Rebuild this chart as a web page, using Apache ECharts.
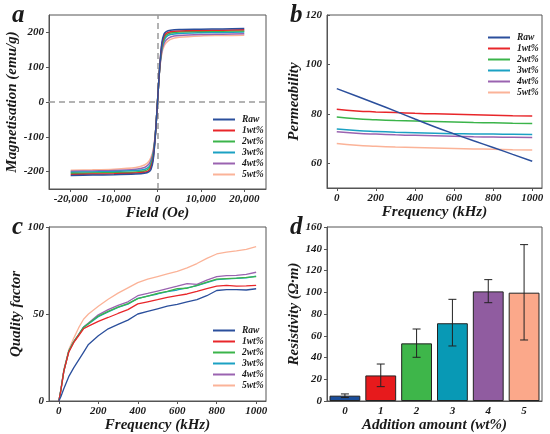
<!DOCTYPE html>
<html>
<head>
<meta charset="utf-8">
<title></title>
<script src="https://cdn.jsdelivr.net/npm/echarts@6/dist/echarts.min.js"></script>
<style>
	html, body { margin: 0; padding: 0; background: #fff; }
	#main { width: 550px; height: 434px; }
</style>
</head>
<body>
<div id="main"></div>
<script type="text/javascript">
	var names = ['Raw', '1wt%', '2wt%', '3wt%', '4wt%', '5wt%'];
	var lineColors = ['#2b4f9c', '#e8262a', '#3bb44a', '#1ba1c3', '#9a63b0', '#fbb398'];

	// a: magnetisation loops
	var fieldOe = [-20000, -15000, -10000, -5000, -3000, -2000, -1500, -1000, -500, 0, 500, 1000, 1500, 2000, 3000, 5000, 10000, 15000, 20000];
	var magRaw = [-211, -210, -209, -207, -205, -201, -194, -168, -98, 0, 100, 170, 195, 202, 206, 208, 209, 210, 211];
	var mag1 = [-208, -207, -206, -204, -202, -197, -187, -163, -96, 0, 98, 165, 188, 197, 202, 204, 205.5, 206.5, 207.5];
	var mag2 = [-205, -204, -203, -201, -198, -192, -181, -156, -95, 0, 97, 158, 182, 192, 198, 201, 202.5, 203.5, 204];
	var mag3 = [-202, -201, -200, -197, -194, -187, -175, -150, -94, 0, 96, 152, 176, 187, 194, 197, 199, 200, 201];
	var mag4 = [-199, -198, -197, -193, -188, -179, -167, -144, -93, 0, 95, 146, 168, 178, 187, 191, 194, 195, 196];
	var mag5 = [-196, -195, -193, -188, -181, -171, -159, -138, -92, 0, 94, 140, 160, 170, 180, 186, 190, 191, 192];

	// b: permeability
	var freqB = [0, 100, 200, 300, 400, 500, 600, 700, 800, 900, 1000];
	var permRaw = [90.2, 87.2, 84.2, 81.1, 77.9, 74.8, 71.9, 69.1, 66.4, 63.6, 60.8];
	var perm1 = [81.9, 81.2, 80.8, 80.5, 80.2, 80.0, 79.8, 79.6, 79.4, 79.2, 79.1];
	var perm2 = [78.7, 78.0, 77.6, 77.3, 77.1, 76.9, 76.7, 76.5, 76.4, 76.2, 76.1];
	var perm3 = [73.9, 73.3, 72.9, 72.6, 72.4, 72.2, 72.0, 71.9, 71.8, 71.7, 71.6];
	var perm4 = [72.8, 72.2, 71.8, 71.5, 71.3, 71.1, 70.9, 70.7, 70.6, 70.5, 70.4];
	var perm5 = [68.0, 67.3, 66.9, 66.6, 66.4, 66.2, 66.0, 65.8, 65.7, 65.5, 65.4];

	// c: quality factor
	var freqC = [0, 10, 25, 50, 75, 100, 125, 150, 200, 250, 300, 350, 400, 450, 500, 550, 600, 650, 700, 750, 800, 850, 900, 950, 1000];
	var qRaw = [0, 2.5, 7, 14, 19, 23.5, 28, 32.5, 37.5, 41.5, 44, 46.5, 50, 51.5, 53, 54.5, 55.5, 57, 58.3, 60.5, 63.5, 64, 64, 63.8, 64.5];
	var q1 = [0, 6, 17, 28, 33.5, 37.5, 41.5, 43, 45.8, 48, 50.3, 52.5, 55.8, 57, 58.2, 59.5, 60.6, 61.5, 63, 64.6, 66, 66.5, 66, 66.2, 66.5];
	var q2 = [0, 6, 17, 28.5, 34, 38, 42.3, 44.5, 48.8, 51.5, 54, 56, 58.8, 60.3, 61.8, 63, 64.6, 64.8, 66.5, 68.3, 70, 70.3, 70.6, 71, 71.5];
	var q3 = [0, 6.5, 17.5, 28.5, 34, 38, 42.3, 44.3, 48.5, 51.2, 53.8, 55.7, 59, 60.3, 61.5, 62.8, 63.8, 65, 66.3, 68, 69.8, 70.2, 70.5, 70.8, 71.8];
	var q4 = [0, 6, 17, 28.5, 34, 38.2, 42.5, 44.8, 49.5, 52.5, 55, 57, 60.5, 61.8, 63.2, 64.6, 66, 67.5, 67, 69.5, 71.5, 72, 72.2, 72.8, 74];
	var q5 = [0, 6.5, 18, 29.5, 36, 42, 47, 50, 54.5, 58.5, 62, 65, 68, 70, 71.5, 73, 74.5, 76.5, 79, 82, 84.5, 85.5, 86.3, 87.2, 88.7];

	// d: resistivity
	var amounts = ['0', '1', '2', '3', '4', '5'];
	var resist = [4.9, 23.5, 53, 71.5, 100.8, 99.6];
	var errLow = [3.2, 13.2, 40.2, 50.6, 90.4, 56.1];
	var errHigh = [6.5, 34, 66.2, 93.5, 111.6, 143.8];
	var barColors = ['#1b4e9b', '#e71a1c', '#3eb64a', '#0899b5', '#905ca0', '#fba88a'];

	var serif = 'Liberation Serif';
	function font(size) {
		return { fontFamily: serif, fontWeight: 'bold', fontStyle: 'italic', fontSize: size, color: '#1a1a1a' };
	}
	var frame = '#555';

	function valueAxis(grid, min, max, ticks, name, gap, inside, plain) {
		var label = Object.assign({ customValues: ticks, margin: 5 }, font(11));
		if (plain) label.formatter = function (v) { return String(v); };
		return {
			type: 'value', gridIndex: grid, min: min, max: max,
			name: name, nameLocation: 'middle', nameGap: gap, nameTextStyle: font(15),
			axisLine: { show: true, onZero: false, lineStyle: { color: frame, width: 1 } },
			axisTick: { show: true, inside: !!inside, length: 3, customValues: ticks, lineStyle: { color: frame } },
			axisLabel: label,
			splitLine: { show: false }
		};
	}

	function pairs(xs, ys) {
		return xs.map(function (x, i) { return [x, ys[i]]; });
	}

	function lineSeries(grid, xs, list, smooth, width) {
		return list.map(function (ys, i) {
			return {
				type: 'line', name: names[i], xAxisIndex: grid, yAxisIndex: grid,
				data: pairs(xs, ys), showSymbol: false, symbol: 'none', smooth: smooth,
				lineStyle: { color: lineColors[i], width: width }, itemStyle: { color: lineColors[i] },
				z: 10 - i
			};
		});
	}

	var seriesA = lineSeries(0, fieldOe, [magRaw, mag1, mag2, mag3, mag4, mag5], 0.3, 1.5);
	seriesA[0].markLine = {
		silent: true, symbol: 'none', label: { show: false },
		lineStyle: { type: [6, 4], color: '#9a9a9a', width: 1.5 },
		data: [{ xAxis: 0 }, { yAxis: 0 }]
	};
	var seriesB = lineSeries(1, freqB, [permRaw, perm1, perm2, perm3, perm4, perm5], true, 1.5);
	var seriesC = lineSeries(2, freqC, [qRaw, q1, q2, q3, q4, q5], false, 1.3);

	var barSeries = {
		type: 'bar', xAxisIndex: 3, yAxisIndex: 3, barWidth: '86%',
		data: resist.map(function (v, i) {
			return { value: v, itemStyle: { color: barColors[i], borderColor: '#222', borderWidth: 1 } };
		})
	};
	var errSeries = {
		type: 'custom', xAxisIndex: 3, yAxisIndex: 3, z: 5,
		data: resist.map(function (v, i) { return [i, errLow[i], errHigh[i]]; }),
		encode: { x: 0, y: [1, 2] },
		renderItem: function (params, api) {
			var lo = api.coord([api.value(0), api.value(1)]);
			var hi = api.coord([api.value(0), api.value(2)]);
			var w = 4;
			var st = { stroke: '#222', lineWidth: 1 };
			return {
				type: 'group', children: [
					{ type: 'line', shape: { x1: lo[0], y1: lo[1], x2: hi[0], y2: hi[1] }, style: st },
					{ type: 'line', shape: { x1: lo[0] - w, y1: lo[1], x2: lo[0] + w, y2: lo[1] }, style: st },
					{ type: 'line', shape: { x1: hi[0] - w, y1: hi[1], x2: hi[0] + w, y2: hi[1] }, style: st }
				]
			};
		}
	};

	function legendAt(left, top) {
		return {
			data: names, orient: 'vertical', left: left, top: top,
			icon: 'rect', itemWidth: 22, itemHeight: 2, itemGap: 0,
			textStyle: Object.assign({ lineHeight: 11, padding: [0, 0, 0, 2] }, font(9.5)),
			selectedMode: false
		};
	}

	var myChart = echarts.init(document.getElementById('main'));
	myChart.setOption({
		animation: false,
		backgroundColor: '#fff',
		title: [
			{ text: 'a', left: 7, top: -2, textStyle: font(25) },
			{ text: 'b', left: 285, top: -2, textStyle: font(25) },
			{ text: 'c', left: 7, top: 210, textStyle: font(25) },
			{ text: 'd', left: 285, top: 210, textStyle: font(25) }
		],
		grid: [
			{ left: 49, top: 15, width: 217, height: 174, show: true, borderColor: frame, borderWidth: 1 },
			{ left: 327, top: 15, width: 215, height: 173, show: true, borderColor: frame, borderWidth: 1 },
			{ left: 49, top: 227, width: 217, height: 174, show: true, borderColor: frame, borderWidth: 1 },
			{ left: 327, top: 227, width: 215, height: 174, show: true, borderColor: frame, borderWidth: 1 }
		],
		legend: [legendAt(208, 109), legendAt(483, 27), legendAt(208, 320)],
		xAxis: [
			valueAxis(0, -25000, 25000, [-20000, -10000, 0, 10000, 20000], 'Field (Oe)', 13),
			valueAxis(1, -50, 1050, [0, 200, 400, 600, 800, 1000], 'Frequency (kHz)', 14, false, true),
			valueAxis(2, -50, 1050, [0, 200, 400, 600, 800, 1000], 'Frequency (kHz)', 13, false, true),
			{
				type: 'category', gridIndex: 3, data: amounts,
				name: 'Addition amount (wt%)', nameLocation: 'middle', nameGap: 14, nameTextStyle: font(15),
				axisLine: { show: true, lineStyle: { color: frame } },
				axisTick: { show: false },
				axisLabel: Object.assign({ margin: 5 }, font(11))
			}
		],
		yAxis: [
			valueAxis(0, -250, 250, [-200, -100, 0, 100, 200], 'Magnetisation (emu/g)', 24),
			valueAxis(1, 50, 120, [60, 80, 100, 120], 'Permeability', 24, true),
			valueAxis(2, 0, 100, [0, 50, 100], 'Quality factor', 22),
			valueAxis(3, 0, 160, [0, 20, 40, 60, 80, 100, 120, 140, 160], 'Resistivity (\u03a9\u00b7m)', 22)
		],
		series: seriesA.concat(seriesB, seriesC, [barSeries, errSeries])
	});
</script>
</body>
</html>
